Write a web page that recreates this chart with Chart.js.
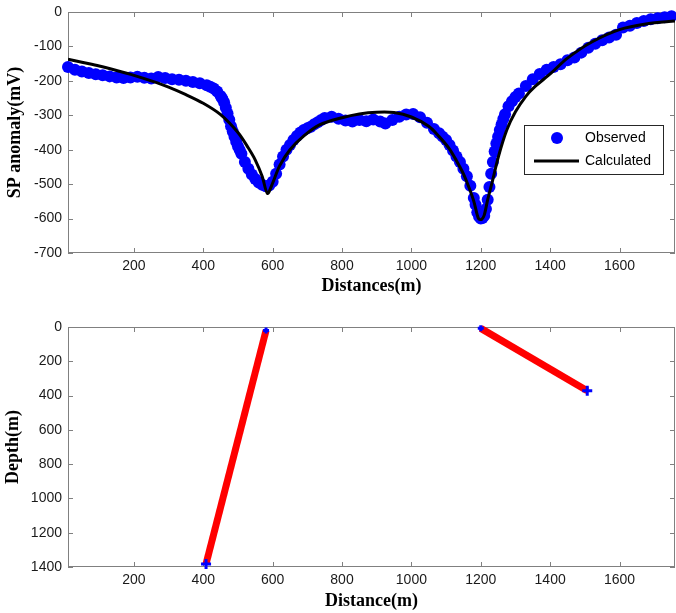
<!DOCTYPE html>
<html>
<head>
<meta charset="utf-8">
<script src="https://cdn.jsdelivr.net/npm/chart.js@4.4.1/dist/chart.umd.min.js"></script>
<style>
  body { margin: 0; background: #fff; }
  canvas { display: block; }
</style>
</head>
<body>
<canvas id="spchart" width="676" height="300"></canvas>
<canvas id="depthchart" width="676" height="313"></canvas>
<script>
// tick values
const distTicks = [200, 400, 600, 800, 1000, 1200, 1400, 1600];
const spTicks = [0, -100, -200, -300, -400, -500, -600, -700];
const depthTicks = [0, 200, 400, 600, 800, 1000, 1200, 1400];

// observed SP profile (m, mV)
const obsDist = [10, 30, 50, 70, 90, 110, 130, 150, 170, 190, 210, 230, 250, 270, 290, 310, 330, 350, 370, 390,
  410, 420, 430, 440, 450, 455, 460, 465, 470, 475, 480, 485, 490, 495, 500, 505, 510, 520, 530, 540,
  550, 560, 570, 580, 590, 600, 610, 620, 630, 640, 650, 660, 670, 680, 690, 700, 710, 720, 730, 740,
  750, 770, 790, 810, 830, 850, 870, 890, 910, 925, 945, 965, 985, 1005, 1025, 1045, 1065, 1080, 1090, 1100,
  1110, 1120, 1130, 1140, 1150, 1160, 1170, 1180, 1185, 1190, 1195, 1200, 1205, 1210, 1215, 1220, 1225, 1230, 1235, 1240,
  1245, 1250, 1255, 1260, 1265, 1270, 1280, 1290, 1300, 1310, 1330, 1350, 1370, 1390, 1410, 1430, 1450, 1470, 1490, 1510,
  1530, 1550, 1570, 1590, 1610, 1630, 1650, 1670, 1690, 1710, 1730, 1750];
const obsSP = [-160, -168, -173, -177, -181, -184, -187, -190, -192, -190, -188, -191, -193, -189, -192, -195, -197, -200, -203, -207,
  -213, -217, -222, -231, -244, -252, -262, -278, -295, -313, -332, -347, -362, -377, -390, -401, -412, -436, -455, -472,
  -485, -495, -502, -506, -504, -493, -470, -443, -420, -400, -386, -372, -360, -350, -343, -338, -333, -326, -320, -314,
  -308, -304, -310, -315, -318, -314, -317, -312, -318, -324, -314, -304, -298, -296, -306, -322, -340, -352, -362, -372,
  -386, -402, -420, -436, -455, -477, -505, -540, -560, -582, -594, -600, -598, -592, -572, -545, -508, -470, -436, -405,
  -382, -362, -343, -327, -311, -297, -274, -259, -247, -237, -215, -195, -180, -168, -160, -152, -140, -132, -118, -104,
  -92, -82, -74, -66, -45, -40, -32, -26, -21, -18, -15, -12];

// calculated (model) response
const calcDist = [10, 50, 100, 150, 200, 250, 300, 350, 400, 450, 500, 530, 550, 570, 585, 600, 620, 650, 690, 735,
  800, 850, 900, 950, 1000, 1050, 1080, 1110, 1130, 1150, 1165, 1180, 1190, 1195, 1203, 1210, 1220, 1232, 1251, 1275,
  1300, 1330, 1356, 1400, 1450, 1520, 1600, 1680, 1760];
const calcSP = [-137, -146, -157, -170, -184, -200, -218, -240, -265, -298, -350, -395, -430, -478, -527, -497, -447, -400, -360, -328,
  -307, -296, -291, -292, -305, -332, -362, -398, -432, -470, -507, -550, -590, -602, -602, -590, -545, -498, -420, -343,
  -290, -245, -217, -180, -134, -87, -51, -34, -26];

// inclined bodies: top and bottom ends (distance m, depth m)
const body1Dist = [581, 408];
const body1Depth = [20, 1382];
const body2Dist = [1200, 1507];
const body2Depth = [8, 372];

const toPoints = (xs, ys) => xs.map((x, i) => ({ x: x, y: ys[i] }));

Chart.defaults.font.family = "'Liberation Sans', Arial, sans-serif";
Chart.defaults.font.size = 14;
Chart.defaults.color = "#1a1a1a";
Chart.defaults.animation = false;

const titleFont = { family: "'Liberation Serif', 'Times New Roman', serif", size: 18, weight: "bold" };

// box around the plot with inward ticks on all four sides
const boxTicks = {
  id: "boxTicks",
  beforeDatasetsDraw(chart) {
    const { ctx, chartArea: a, scales } = chart;
    const len = 5;
    ctx.save();
    ctx.strokeStyle = "#808080";
    ctx.lineWidth = 1;
    ctx.strokeRect(a.left + 0.5, a.top + 0.5, a.width - 1, a.height - 1);
    ctx.beginPath();
    scales.x.ticks.forEach((t) => {
      const px = Math.round(scales.x.getPixelForValue(t.value)) + 0.5;
      ctx.moveTo(px, a.top);
      ctx.lineTo(px, a.top + len);
      ctx.moveTo(px, a.bottom);
      ctx.lineTo(px, a.bottom - len);
    });
    scales.y.ticks.forEach((t) => {
      const py = Math.round(scales.y.getPixelForValue(t.value)) + 0.5;
      ctx.moveTo(a.left, py);
      ctx.lineTo(a.left + len, py);
      ctx.moveTo(a.right, py);
      ctx.lineTo(a.right - len, py);
    });
    ctx.stroke();
    ctx.restore();
  },
};

// boxed legend inside the upper right of the plot
const boxLegend = {
  id: "boxLegend",
  afterDraw(chart) {
    const { ctx, chartArea: a } = chart;
    const [obs, calc] = chart.data.datasets;
    const w = 139, h = 49;
    const left = a.right - 151, top = a.top + 113;
    ctx.save();
    ctx.fillStyle = "#fff";
    ctx.fillRect(left, top, w, h);
    ctx.strokeStyle = "#262626";
    ctx.lineWidth = 1;
    ctx.strokeRect(left + 0.5, top + 0.5, w, h);

    ctx.fillStyle = obs.backgroundColor;
    ctx.beginPath();
    ctx.arc(left + 33, top + 13, obs.pointRadius, 0, Math.PI * 2);
    ctx.fill();

    ctx.strokeStyle = calc.borderColor;
    ctx.lineWidth = calc.borderWidth;
    ctx.beginPath();
    ctx.moveTo(left + 10, top + 36);
    ctx.lineTo(left + 55, top + 36);
    ctx.stroke();

    ctx.fillStyle = "#000";
    ctx.font = "14px 'Liberation Sans', Arial, sans-serif";
    ctx.textBaseline = "middle";
    ctx.fillText(obs.label, left + 61, top + 13);
    ctx.fillText(calc.label, left + 61, top + 36);
    ctx.restore();
  },
};

const distAxis = (height, titleText, titlePad) => ({
  type: "linear",
  min: 10,
  max: 1760,
  grid: { display: false, tickLength: 0 },
  border: { display: false },
  afterBuildTicks: (s) => { s.ticks = distTicks.map((v) => ({ value: v })); },
  afterFit: (s) => {
    s.height = height;
    s.paddingLeft = 0;
    s.paddingRight = 0;
  },
  ticks: { padding: 5, maxRotation: 0, callback: (v) => String(v) },
  title: { display: true, text: titleText, font: titleFont, color: "#000", padding: { top: 0, bottom: titlePad } },
});

const valueAxis = (min, max, reverse, tickList, titleText, titlePad) => ({
  type: "linear",
  min: min,
  max: max,
  reverse: reverse,
  grid: { display: false, tickLength: 0 },
  border: { display: false },
  afterBuildTicks: (s) => { s.ticks = tickList.map((v) => ({ value: v })); },
  afterFit: (s) => {
    s.width = 68;
    s.paddingTop = 0;
    s.paddingBottom = 0;
  },
  ticks: { padding: 6, callback: (v) => String(v) },
  title: { display: true, text: titleText, font: titleFont, color: "#000", padding: { top: titlePad, bottom: 0 } },
});

new Chart(document.getElementById("spchart"), {
  type: "scatter",
  data: {
    datasets: [
      {
        label: "Observed",
        data: toPoints(obsDist, obsSP),
        backgroundColor: "#0000ff",
        borderColor: "#0000ff",
        pointRadius: 6,
        pointBorderWidth: 0,
        showLine: false,
        clip: false,
        order: 1,
      },
      {
        label: "Calculated",
        data: toPoints(calcDist, calcSP),
        borderColor: "#000000",
        backgroundColor: "#000000",
        borderWidth: 3,
        pointRadius: 0,
        showLine: true,
        tension: 0.3,
        order: 0,
      },
    ],
  },
  options: {
    responsive: false,
    layout: { autoPadding: false, padding: { top: 12, right: 1, left: 0, bottom: 0 } },
    plugins: { legend: { display: false }, tooltip: { enabled: false } },
    scales: {
      x: distAxis(47, "Distances(m)", 3),
      y: valueAxis(-700, 0, false, spTicks, "SP anomaly(mV)", 5),
    },
  },
  plugins: [boxTicks, boxLegend],
});

const bodyStyle = {
  borderColor: "#ff0000",
  borderWidth: 7,
  pointStyle: "cross",
  pointRadius: [3, 5],
  pointBorderColor: "#0000ff",
  pointBorderWidth: 3,
  showLine: true,
  tension: 0,
  clip: false,
};

new Chart(document.getElementById("depthchart"), {
  type: "scatter",
  data: {
    datasets: [
      Object.assign({ label: "Body 1", data: toPoints(body1Dist, body1Depth) }, bodyStyle),
      Object.assign({ label: "Body 2", data: toPoints(body2Dist, body2Depth) }, bodyStyle),
    ],
  },
  options: {
    responsive: false,
    layout: { autoPadding: false, padding: { top: 27, right: 1, left: 0, bottom: 0 } },
    plugins: { legend: { display: false }, tooltip: { enabled: false } },
    scales: {
      x: distAxis(46, "Distance(m)", 1),
      y: valueAxis(0, 1400, true, depthTicks, "Depth(m)", 3),
    },
  },
  plugins: [boxTicks],
});
</script>
</body>
</html>
